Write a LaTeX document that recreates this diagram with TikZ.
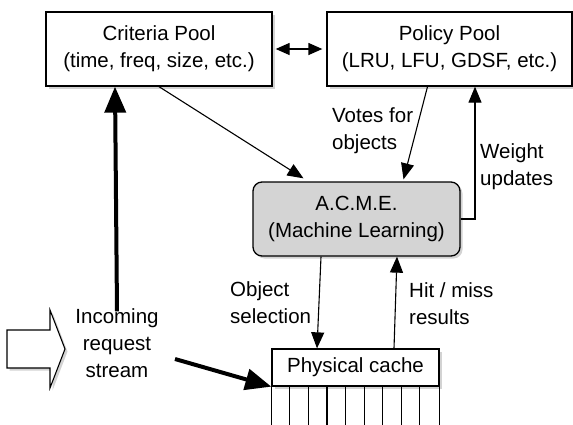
\documentclass[tikz,border=0pt]{standalone}
\usepackage{fontspec}
\setmainfont{Liberation Sans}
\usetikzlibrary{arrows.meta,shadows,calc}
\begin{document}
\begin{tikzpicture}[x=1pt,y=-1pt,
  font=\fontsize{20.5}{27}\selectfont,
  shad/.style={drop shadow={opacity=0.35,shadow xshift=2.5pt,shadow yshift=-2.5pt}},
  pool/.style={draw,line width=1.3pt,fill=white,shad,align=center,inner sep=0pt},
  thin/.style={line width=1.1pt,-{Triangle[length=16pt,width=13pt]}},
  thick/.style={line width=4pt,-{Triangle[length=26pt,width=21pt]}},
  lbl/.style={align=left,inner sep=0pt}]
\useasboundingbox (0,0) rectangle (573,424);
\node[pool,minimum width=226pt,minimum height=74pt] (crit) at (159,49) {Criteria Pool\\(time, freq, size, etc.)};
\node[pool,minimum width=245pt,minimum height=74pt] (pol) at (449.5,49) {Policy Pool\\(LRU, LFU, GDSF, etc.)};
\node[pool,fill=black!17,rounded corners=9pt,minimum width=207pt,minimum height=74pt] (acme) at (356.5,219) {A.C.M.E.\\(Machine Learning)};
\node[pool,minimum width=167pt,minimum height=37pt] (cache) at (355.5,367.5) {Physical cache};
% cells
\draw[line width=1.3pt,fill=white] (cache.south west) -- ++(0,45) (cache.south east) -- ++(0,45);
\foreach \i in {1,...,8}
  \draw[line width=1.1pt] ($(cache.south west)+(\i*18.56,0)$) -- ++(0,45);
% incoming
\node[align=center,inner sep=0pt] (inc) at (117,343) {Incoming\\request\\stream};
\draw[line width=1.1pt,fill=white,shad] (7,330) -- (50,330) -- (50,310) -- (65,349) -- (50,388) -- (50,368) -- (7,368) -- cycle;
\coordinate (s1) at (175,359);
% connectors
\draw[line width=1.3pt,{Triangle[length=14pt,width=12pt]}-{Triangle[length=14pt,width=12pt]}] ([xshift=3pt]crit.east) -- ([xshift=-4pt]pol.west);
\draw[thin] (crit.south) -- ([xshift=-53pt,yshift=3pt]acme.north);
\draw[thin] ([xshift=-22pt]pol.south) -- ([xshift=47pt,yshift=2pt]acme.north);
\draw[thin] (acme.east) -| ([xshift=25.5pt]pol.south);
\draw[thin] ([xshift=-35.5pt]acme.south) -- ([xshift=-38.5pt]cache.north);
\draw[thin] ([xshift=38.5pt]cache.north) -- ([xshift=40.5pt]acme.south);
\draw[thick] ([yshift=-3pt]inc.north) -- ([xshift=-44pt]crit.south);
\draw[thick] (s1) -- (cache.south west);
% labels
\node[lbl,anchor=west] (lv) at (332,131) {Votes for\\objects};
\node[lbl,anchor=west] (lw) at (480,167) {Weight\\updates};
\node[lbl,anchor=west] (lo) at (230,303) {Object\\selection};
\node[lbl,anchor=west] (lh) at (409,304) {Hit / miss\\results};
\end{tikzpicture}
\end{document}
